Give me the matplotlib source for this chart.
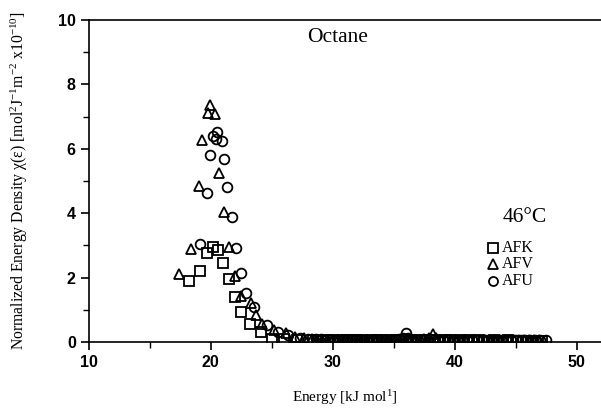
import matplotlib
matplotlib.use("Agg")
import matplotlib.pyplot as plt
from matplotlib.ticker import MultipleLocator

plt.rcParams['mathtext.fontset'] = 'custom'
plt.rcParams['mathtext.rm'] = 'Liberation Serif'
plt.rcParams['mathtext.it'] = 'Liberation Serif:italic'

# AFK (squares)
afk_peak_x = [18.2, 19.1, 19.7, 20.2, 20.6, 21.0, 21.5, 22.0, 22.5, 23.2, 24.1, 25.0, 26.0, 27.1]
afk_peak_y = [1.90, 2.20, 2.75, 2.96, 2.85, 2.45, 1.95, 1.41, 0.94, 0.57, 0.30, 0.10, 0.08, 0.06]
afk_tail_x = [28.4, 28.8, 29.2, 29.6, 30.0, 30.4, 30.8, 31.2, 31.6, 32.0,
              32.4, 32.8, 33.2, 33.6, 34.0, 34.4, 34.8, 35.2, 35.6, 36.0,
              36.4, 36.8, 37.2, 37.6, 38.0, 38.4, 38.8, 39.2, 39.6, 40.0,
              40.4, 40.8, 41.2, 41.6, 42.0, 42.4, 42.8, 43.2, 43.6, 44.0,
              44.4, 44.8, 45.2, 45.6, 46.0, 46.4, 46.8, 47.2]
afk_tail_y = [0.05, 0.04, 0.04, 0.05, 0.05, 0.04, 0.05, 0.05, 0.06, 0.05,
              0.05, 0.04, 0.05, 0.05, 0.05, 0.04, 0.05, 0.06, 0.05, 0.05,
              0.05, 0.04, 0.05, 0.05, 0.05, 0.05, 0.04, 0.05, 0.05, 0.04,
              0.05, 0.04, 0.05, 0.04, 0.05, 0.04, 0.04, 0.05, 0.04, 0.04,
              0.05, 0.04, 0.04, 0.04, 0.04, 0.04, 0.04, 0.04]

# AFV (triangles)
afv_peak_x = [17.4, 18.4, 19.0, 19.3, 19.8, 19.9, 20.3, 20.7, 21.1, 21.5, 22.0, 22.5, 23.3, 23.7,
              24.2, 25.2, 26.2, 26.9, 27.6]
afv_peak_y = [2.10, 2.88, 4.84, 6.27, 7.10, 7.36, 7.08, 5.26, 4.05, 2.94, 2.06, 1.43, 1.20, 0.85,
              0.55, 0.37, 0.27, 0.16, 0.11]
afv_tail_x = [28.3, 28.7, 29.1, 29.5, 29.9, 30.3, 30.7, 31.1, 31.5, 31.9,
              32.3, 32.7, 33.1, 33.5, 33.9, 34.3, 34.7, 35.1, 35.5, 35.9,
              36.3, 36.7, 37.1, 37.5, 37.9, 38.2, 38.5, 38.9, 39.3, 39.7,
              40.1, 40.5, 40.9, 41.3, 41.7, 42.1, 42.5, 42.9, 43.3, 43.7,
              44.1, 44.5, 44.9, 45.3, 45.7, 46.1, 46.5, 46.9]
afv_tail_y = [0.08, 0.07, 0.07, 0.07, 0.06, 0.06, 0.06, 0.07, 0.06, 0.06,
              0.06, 0.07, 0.06, 0.06, 0.06, 0.07, 0.06, 0.06, 0.07, 0.06,
              0.07, 0.07, 0.07, 0.08, 0.12, 0.25, 0.12, 0.07, 0.06, 0.06,
              0.06, 0.06, 0.05, 0.06, 0.05, 0.06, 0.05, 0.05, 0.05, 0.05,
              0.05, 0.05, 0.05, 0.05, 0.05, 0.05, 0.05, 0.05]

# AFU (circles)
afu_peak_x = [19.1, 19.7, 19.9, 20.2, 20.4, 20.5, 20.9, 21.1, 21.3, 21.7, 22.1, 22.5, 22.9, 23.5,
              24.6, 25.5, 26.3, 27.3]
afu_peak_y = [3.04, 4.64, 5.80, 6.40, 6.30, 6.53, 6.25, 5.67, 4.82, 3.89, 2.91, 2.13, 1.51, 1.10,
              0.52, 0.32, 0.20, 0.12]
afu_tail_x = [28.0, 28.6, 29.0, 29.4, 29.8, 30.2, 30.6, 31.0, 31.4, 31.8,
              32.2, 32.6, 33.0, 33.4, 33.8, 34.2, 34.6, 35.0, 35.4, 35.8,
              36.0, 36.2, 36.6, 37.0, 37.4, 37.8, 38.2, 38.6, 39.0, 39.4,
              39.8, 40.2, 40.6, 41.0, 41.4, 41.8, 42.2, 42.6, 43.0, 43.4,
              43.8, 44.2, 44.6, 45.0, 45.4, 45.8, 46.2, 46.6, 47.0, 47.5]
afu_tail_y = [0.09, 0.08, 0.08, 0.07, 0.07, 0.07, 0.07, 0.06, 0.07, 0.06,
              0.06, 0.07, 0.06, 0.06, 0.07, 0.06, 0.06, 0.07, 0.08, 0.12,
              0.27, 0.12, 0.07, 0.06, 0.06, 0.06, 0.06, 0.06, 0.05, 0.06,
              0.05, 0.06, 0.05, 0.05, 0.05, 0.05, 0.05, 0.05, 0.05, 0.05,
              0.05, 0.05, 0.05, 0.05, 0.05, 0.05, 0.06, 0.06, 0.06, 0.06]

series_names = ['AFK', 'AFV', 'AFU']
x_label = 'Energy [kJ mol$^{1}$]'
y_label = 'Normalized Energy Density χ(ε) [mol$^{2}$J$^{-1}$m$^{-2}$ x10$^{-10}$]'
title_text = 'Octane'
temp_text = '46°C'

fig = plt.figure(figsize=(6.01, 4.09), dpi=100)
ax = fig.add_axes([0.148, 0.164, 0.852, 0.787])

mk = dict(linestyle='none', markerfacecolor='none', markeredgecolor='black', markeredgewidth=1.3)
ax.plot(afk_peak_x + afk_tail_x, afk_peak_y + afk_tail_y, marker='s', markersize=7, **mk)
ax.plot(afv_peak_x + afv_tail_x, afv_peak_y + afv_tail_y, marker='^', markersize=7.5, **mk)
ax.plot(afu_peak_x + afu_tail_x, afu_peak_y + afu_tail_y, marker='o', markersize=7, **mk)

ax.set_xlim(10, 52)
ax.set_ylim(0, 10)
ax.xaxis.set_major_locator(MultipleLocator(10))
ax.xaxis.set_minor_locator(MultipleLocator(5))
ax.yaxis.set_major_locator(MultipleLocator(2))
ax.yaxis.set_minor_locator(MultipleLocator(1))
ax.tick_params(which='major', direction='out', length=6, width=1.2, labelsize=11.5)
ax.tick_params(which='minor', direction='out', length=4, width=1.0)
for lab in ax.get_xticklabels() + ax.get_yticklabels():
    lab.set_fontfamily('Liberation Sans')
    lab.set_fontweight('bold')
ax.spines['right'].set_visible(False)
for s in ['left', 'bottom', 'top']:
    ax.spines[s].set_linewidth(1.2)

serif = 'Liberation Serif'
ax.set_xlabel(x_label, fontfamily=serif, fontsize=11, labelpad=13)
ax.set_ylabel(y_label, fontfamily=serif, fontsize=11.3, labelpad=20)

ax.text(0.486, 0.947, title_text, transform=ax.transAxes, ha='center', va='center',
        fontfamily=serif, fontsize=15.5)
ax.text(0.851, 0.385, temp_text, transform=ax.transAxes, ha='center', va='center',
        fontfamily=serif, fontsize=15.5)

# legend
marks = ['s', '^', 'o']
ys = [0.292, 0.242, 0.189]
for n, m, yy in zip(series_names, marks, ys):
    ax.plot([0.789], [yy], transform=ax.transAxes, marker=m, markersize=6.5, clip_on=False, **mk)
    ax.text(0.806, yy, n, transform=ax.transAxes, ha='left', va='center',
            fontfamily=serif, fontsize=11.5)

fig.savefig('out.png', dpi=100)
